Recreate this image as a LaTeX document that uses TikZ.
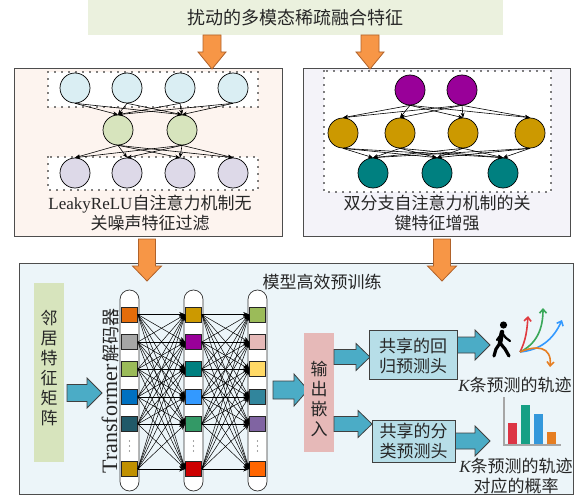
\documentclass[tikz,border=0pt]{standalone}
\usepackage{fontspec}
\setmainfont{Liberation Serif}
\newfontfamily\cjk{Noto Sans CJK SC}
\usetikzlibrary{arrows.meta}

\definecolor{titlegreen}{HTML}{EBF1DE}
\definecolor{orangeA}{HTML}{F79646}
\definecolor{orangeD}{HTML}{B0622A}
\definecolor{tealA}{HTML}{4BACC6}
\definecolor{panelL}{HTML}{FDF4EF}
\definecolor{panelR}{HTML}{F4F3F9}
\definecolor{panelB}{HTML}{ECF5F9}
\definecolor{frame}{HTML}{4D4D4D}
\definecolor{txt}{HTML}{262626}
\definecolor{nBlue}{HTML}{DAEEF3}
\definecolor{nGreen}{HTML}{D7E4BD}
\definecolor{nLav}{HTML}{DDD9E8}
\definecolor{nPurple}{HTML}{990099}
\definecolor{nGold}{HTML}{CC9900}
\definecolor{nTeal}{HTML}{008080}
\definecolor{matGreen}{HTML}{D7E4BD}
\definecolor{embPink}{HTML}{E6B9B8}
\definecolor{headBlue}{HTML}{B7DEE8}
\definecolor{trRed}{HTML}{E03B40}
\definecolor{trGreen}{HTML}{3AA85A}
\definecolor{trBlue}{HTML}{3399FF}
\definecolor{trOrange}{HTML}{E67E22}
\definecolor{barRed}{HTML}{DC3545}
\definecolor{barTeal}{HTML}{16A085}
\definecolor{barBlue}{HTML}{3498DB}
\definecolor{barOrange}{HTML}{E67E22}

\tikzset{
  pics/blockarrow/.style n args={4}{code={
    \path[pic actions] (0,{-#2}) -- ({#1-#4},{-#2}) -- ({#1-#4},{-#3}) -- (#1,0)
      -- ({#1-#4},#3) -- ({#1-#4},#2) -- (0,#2) -- cycle;
  }},
  orangeblk/.style={fill=orangeA, draw=orangeD, line width=0.8pt},
  tealblk/.style={fill=tealA, draw=black!75, line width=0.8pt},
  panel/.style={draw=frame, line width=1pt},
  dotbox/.style={fill=white, draw=black, line width=1.6pt, line cap=round, dash pattern=on 0pt off 7pt},
  neur/.style={circle, draw=black, line width=0.7pt, minimum size=30pt, inner sep=0pt},
  net/.style={-{Stealth[length=5pt,width=4pt]}, line width=0.6pt},
  tnet/.style={-{Stealth[length=6pt,width=5pt]}, line width=0.5pt},
  pill/.style={draw=black!80, fill=white, line width=0.7pt, rounded corners=9.5pt,
    minimum width=19pt, minimum height=201pt, inner sep=0pt},
  cell/.style={draw=black!85, line width=0.6pt, minimum width=16pt, minimum height=15pt, inner sep=0pt},
  lbl/.style={text=txt, font=\cjk\fontsize{17}{20}\selectfont, align=center, inner sep=0pt},
  traj/.style={line width=1.6pt, -{Straight Barb[length=4pt,width=7pt]}},
}

\begin{document}
\begin{tikzpicture}[x=1pt,y=-1pt]
\useasboundingbox (0,0) rectangle (580,497);

% ---- title ----
\node[fill=titlegreen, minimum width=415pt, minimum height=35pt, inner sep=0pt,
      text=txt, font=\cjk\fontsize{18}{20}\selectfont] (title) at (295.5,17.5) {扰动的多模态稀疏融合特征};

% ---- panels ----
\draw[panel, fill=panelL] (14,69) rectangle (282,236);
\draw[panel, fill=panelR] (303,69) rectangle (570,236);
\draw[panel, fill=panelB] (19,263) rectangle (573,494);

\pic[orangeblk, rotate=-90] at (212,35) {blockarrow={34}{9}{14}{17}};
\pic[orangeblk, rotate=-90] at (370,35) {blockarrow={34}{9}{14}{17}};
\pic[orangeblk, rotate=-90] at (147,239) {blockarrow={42}{8.5}{14.5}{15}};
\pic[orangeblk, rotate=-90] at (442,239) {blockarrow={42}{8.5}{14.5}{15}};

% ---- LeakyReLU branch ----
\draw[dotbox] (48,72) rectangle (258,107);
\draw[dotbox] (48,157) rectangle (258,190);
\foreach \i/\x in {1/75,2/127,3/180,4/233} {
  \node[neur, fill=nBlue] (t\i) at (\x,88) {};
  \node[neur, fill=nLav] (b\i) at (\x,173) {};
}
\node[neur, fill=nGreen] (g1) at (118,130) {};
\node[neur, fill=nGreen] (g2) at (182,130) {};
\foreach \i in {1,...,4} \foreach \j in {1,2} {
  \draw[net] (t\i.south) -- (g\j.north);
  \draw[net] (g\j.south) -- (b\i.north);
}
\node[lbl] (ltxt) at (150,213) {{\rmfamily LeakyReLU}自注意力机制无\\关噪声特征过滤};

% ---- dual-branch attention ----
\draw[dotbox] (324,71) rectangle (551,192);
\node[neur, fill=nPurple] (p1) at (410,90) {};
\node[neur, fill=nPurple] (p2) at (462,90) {};
\foreach \i/\x in {1/343,2/400,3/463,4/530}
  \node[neur, fill=nGold] (y\i) at (\x,133) {};
\foreach \i/\x in {1/373,2/437,3/503}
  \node[neur, fill=nTeal] (c\i) at (\x,173) {};
\foreach \i in {1,2} \foreach \j in {1,...,4}
  \draw[net] (p\i.south) -- (y\j.north);
\foreach \i in {1,...,4} \foreach \j in {1,2,3}
  \draw[net] (y\i.south) -- (c\j.north);
\node[lbl] (rtxt) at (437,213) {双分支自注意力机制的关\\键特征增强};

% ---- pre-training block ----
\node[lbl] (btitle) at (322,282) {模型高效预训练};

\node[fill=matGreen, minimum width=30pt, minimum height=179pt, inner sep=0pt] (mat) at (49,372.5) {};
\node[lbl] at (49,368) {邻\\居\\特\\征\\矩\\阵};
\pic[tealblk] at (67,393) {blockarrow={35}{8.5}{15}{15}};

\node[text=txt, rotate=90, inner sep=0pt, anchor=center] (tlabel) at (110,391)
  {{\fontsize{22}{22}\selectfont Transformer}\,{\cjk\fontsize{18}{20}\selectfont 解码器}};

\node[pill] (colA) at (129.5,390.5) {};
\node[pill] (colB) at (193.5,390.5) {};
\node[pill] (colC) at (257.5,390.5) {};

\foreach \r/\y/\ca/\cb/\cc in {
   1/314.5/E46C0A/CC9900/9BBB59,
   2/342/A6A6A6/990099/E6B9B8,
   3/369/9BBB59/008080/FFD966,
   4/397/0070C0/3399FF/31859C,
   5/424/215968/339966/8064A2,
   6/469/C09000/CC0000/FF6600} {
  \definecolor{cA}{HTML}{\ca}\definecolor{cB}{HTML}{\cb}\definecolor{cC}{HTML}{\cc}
  \node[cell, fill=cA] (a\r) at (129.5,\y) {};
  \node[cell, fill=cB] (b\r) at (193.5,\y) {};
  \node[cell, fill=cC] (c\r) at (257.5,\y) {};
}
% vertical ellipsis in each column
\foreach \x in {129.5,193.5,257.5}
  \foreach \d in {441,446,451}
    \fill[black!70] (\x,\d) circle (0.7);
\foreach \i in {1,...,6} \foreach \j in {1,...,6} {
  \draw[tnet] (a\i.east) -- (b\j.west);
  \draw[tnet] (b\i.east) -- (c\j.west);
}

\pic[tealblk] at (273,390) {blockarrow={35}{9}{16}{14}};
\node[fill=embPink, minimum width=30pt, minimum height=119pt, inner sep=0pt] (emb) at (319,392.5) {};
\node[lbl] at (319,399) {输\\出\\嵌\\入};

\pic[tealblk] at (334,357) {blockarrow={36}{7.5}{13.5}{14}};
\pic[tealblk] at (334,424) {blockarrow={38}{7.5}{13.5}{14}};

\pic[tealblk] at (452,345) {blockarrow={38}{8}{15}{15}};
\pic[tealblk] at (452,441) {blockarrow={38}{8}{15}{15}};

\node[draw=black!75, line width=0.8pt, fill=headBlue, minimum width=88pt, minimum height=49pt, inner sep=0pt] (reg) at (413,354.5) {};
\node[lbl] at (413,356.5) {共享的回\\归预测头};
\node[draw=black!75, line width=0.8pt, fill=headBlue, minimum width=83pt, minimum height=42pt, inner sep=0pt] (cls) at (413.5,441) {};
\node[lbl] at (413.5,441) {共享的分\\类预测头};

% walking pedestrian
\fill[black] (503.5,325) circle (3.6);
\draw[black, line width=4.5pt, line cap=round] (502,332) -- (500,343);
\draw[black, line width=3.2pt, line cap=round] (500,343) -- (496,349) -- (494,356);
\draw[black, line width=3.2pt, line cap=round] (500,343) -- (505,349) -- (509,356);
\draw[black, line width=2.2pt, line cap=round] (502,333) -- (497,340);
\draw[black, line width=2.2pt, line cap=round] (502,333) -- (506,338) -- (510,341);

% predicted trajectories
\coordinate (o) at (520,352);
\draw[traj, trRed]    (o) .. controls (526,340) and (527,330) .. (528,316);
\draw[traj, trGreen]  (o) .. controls (536,344) and (543,330) .. (543,308);
\draw[traj, trBlue]   (o) .. controls (540,350) and (553,340) .. (562,320);
\draw[traj, trOrange] (o) .. controls (536,345) and (552,346) .. (550,367);

\node[lbl] (traj) at (515,385) {{\rmfamily\itshape K}条预测的轨迹};

% probability bar chart
\draw[line width=2pt, draw=black!35] (504,397) -- (504,445) -- (561,445);
\fill[barRed]    (508,423) rectangle (517,444);
\fill[barTeal]   (521,405) rectangle (530,444);
\fill[barBlue]   (534,414) rectangle (543,444);
\fill[barOrange] (547,432) rectangle (556,444);

\node[lbl] (prob) at (516,476) {{\rmfamily\itshape K}条预测的轨迹\\对应的概率};
\end{tikzpicture}
\end{document}
